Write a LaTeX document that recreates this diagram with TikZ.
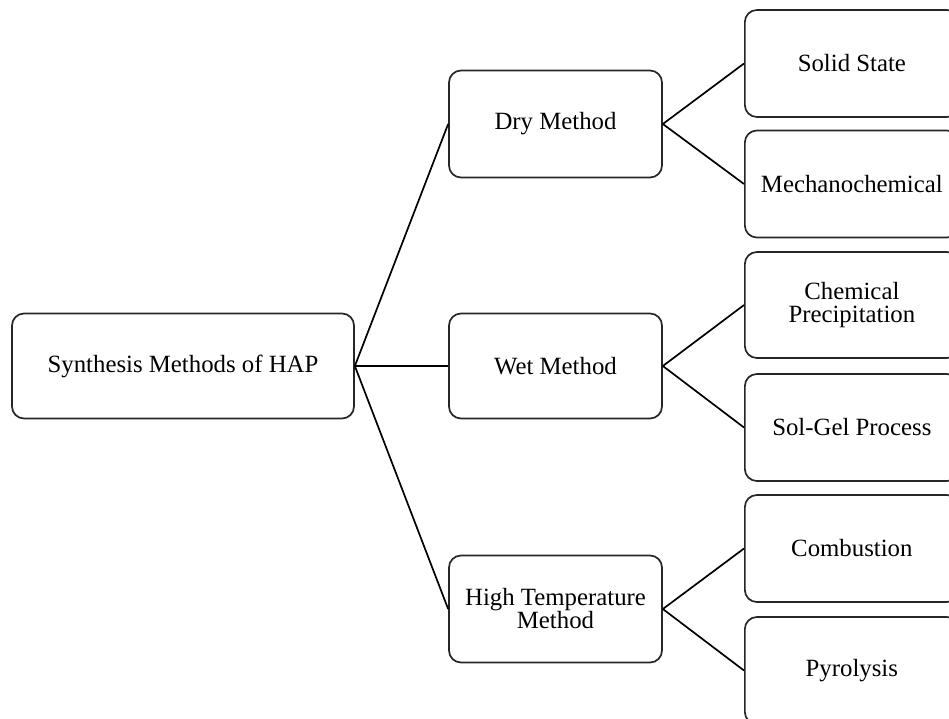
\documentclass[tikz,border=0pt]{standalone}
\usepackage{fontspec}
\setmainfont{Liberation Serif}
\begin{document}
\begin{tikzpicture}[x=1pt,y=-1pt,
  box/.style={draw=black!85, line width=1.7pt, rounded corners=12pt, fill=white, align=center,
    font=\fontsize{24.8}{23}\selectfont, inner sep=0pt},
  link/.style={draw=black, line width=1.7pt}]
\useasboundingbox (0,0) rectangle (949,718);
\clip (0,0) rectangle (949,718);
% root
\node[box, minimum width=342pt, minimum height=105pt] (root) at (183,366) {Synthesis Methods of HAP};
% middle
\node[box, minimum width=213pt, minimum height=107pt] (dry) at (555.5,124) {Dry Method};
\node[box, minimum width=213pt, minimum height=105pt] (wet) at (555.5,366) {Wet Method};
\node[box, minimum width=213pt, minimum height=107pt] (ht) at (555.5,609) {High Temperature\\Method};
% right
\node[box, minimum width=214pt, minimum height=107pt, anchor=west] (ss) at (744,63.5) {Solid State};
\node[box, minimum width=214pt, minimum height=107pt, anchor=west] (mc) at (744,184) {Mechanochemical};
\node[box, minimum width=214pt, minimum height=106pt, anchor=west] (cp) at (744,305) {Chemical\\Precipitation};
\node[box, minimum width=214pt, minimum height=107pt, anchor=west] (sg) at (744,427.5) {Sol-Gel Process};
\node[box, minimum width=214pt, minimum height=107pt, anchor=west] (cb) at (744,548.5) {Combustion};
\node[box, minimum width=214pt, minimum height=107pt, anchor=west] (py) at (744,670.5) {Pyrolysis};
% links
\draw[link] (root.east) -- (dry.west);
\draw[link] (root.east) -- (wet.west);
\draw[link] (root.east) -- (ht.west);
\draw[link] (dry.east) -- (ss.west);
\draw[link] (dry.east) -- (mc.west);
\draw[link] (wet.east) -- (cp.west);
\draw[link] (wet.east) -- (sg.west);
\draw[link] (ht.east) -- (cb.west);
\draw[link] (ht.east) -- (py.west);
\end{tikzpicture}
\end{document}
